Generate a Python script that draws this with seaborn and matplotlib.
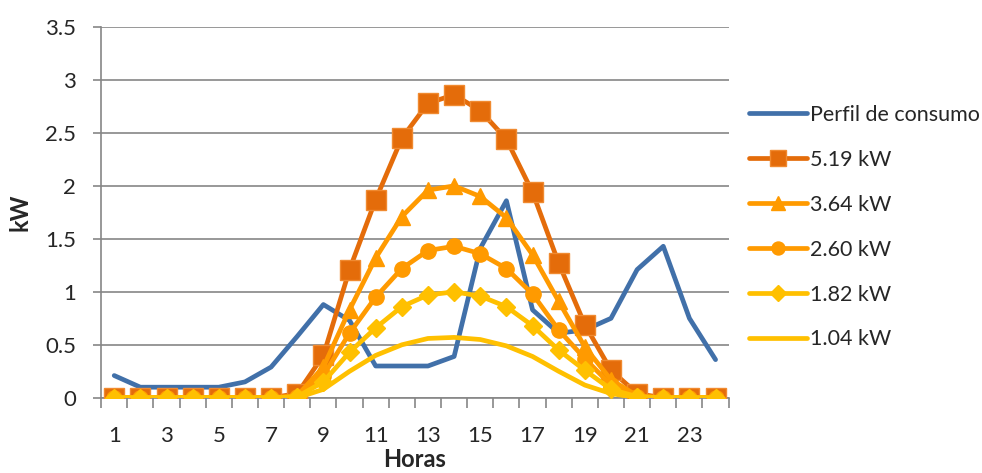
import matplotlib
matplotlib.use("Agg")
import matplotlib.pyplot as plt
import seaborn as sns
import pandas as pd

# ============================================================
# Data
# ============================================================
horas = [1, 2, 3, 4, 5, 6, 7, 8, 9, 10, 11, 12,
         13, 14, 15, 16, 17, 18, 19, 20, 21, 22, 23, 24]

perfil = [0.21, 0.10, 0.10, 0.10, 0.10, 0.15, 0.29, 0.58, 0.88, 0.73, 0.30, 0.30,
          0.30, 0.39, 1.41, 1.86, 0.83, 0.61, 0.64, 0.75, 1.21, 1.43, 0.75, 0.36]
pv_519 = [0, 0, 0, 0, 0, 0, 0, 0.04, 0.40, 1.21, 1.87, 2.45,
          2.78, 2.86, 2.71, 2.44, 1.94, 1.27, 0.69, 0.26, 0.04, 0, 0, 0]
pv_364 = [0, 0, 0, 0, 0, 0, 0, 0.02, 0.29, 0.83, 1.32, 1.71,
          1.96, 2.00, 1.90, 1.70, 1.35, 0.91, 0.48, 0.17, 0.02, 0, 0, 0]
pv_260 = [0, 0, 0, 0, 0, 0, 0, 0.01, 0.21, 0.61, 0.95, 1.22,
          1.39, 1.43, 1.36, 1.22, 0.98, 0.64, 0.37, 0.12, 0.01, 0, 0, 0]
pv_182 = [0, 0, 0, 0, 0, 0, 0, 0.01, 0.15, 0.43, 0.66, 0.86,
          0.97, 1.00, 0.96, 0.86, 0.68, 0.45, 0.26, 0.08, 0.01, 0, 0, 0]
pv_104 = [0, 0, 0, 0, 0, 0, 0, 0, 0.08, 0.25, 0.40, 0.50,
          0.56, 0.57, 0.55, 0.49, 0.39, 0.25, 0.12, 0.04, 0, 0, 0, 0]

series_names = ["Perfil de consumo", "5.19 kW", "3.64 kW",
                "2.60 kW", "1.82 kW", "1.04 kW"]
series_vals = [perfil, pv_519, pv_364, pv_260, pv_182, pv_104]

# ============================================================
# Styles
# ============================================================
GRAY = "#868686"
styles = {
    "Perfil de consumo": dict(color="#4170A9", marker=None),
    "5.19 kW": dict(color="#E46C0A", marker="s", ms=14, mec="#F08A30"),
    "3.64 kW": dict(color="#FF9A00", marker="^", ms=12, mec="#FF9A00"),
    "2.60 kW": dict(color="#FF9A00", marker="o", ms=11, mec="#FF9A00"),
    "1.82 kW": dict(color="#FFC000", marker="D", ms=9, mec="#FFC000"),
    "1.04 kW": dict(color="#FFC000", marker=None),
}

sns.set_style("white")
plt.rcParams["font.family"] = ["Lato", "DejaVu Sans"]

fig, ax = plt.subplots(figsize=(9.82, 4.73), dpi=100)
fig.subplots_adjust(left=0.103, right=0.742, top=0.943, bottom=0.159)

for name, vals in zip(series_names, series_vals):
    df = pd.DataFrame({"Horas": horas, "kW": vals})
    st = styles[name]
    kw = dict(color=st["color"], linewidth=3.4, label=name, ax=ax,
              zorder=3)
    if st["marker"] is not None:
        kw.update(marker=st["marker"], markersize=st["ms"],
                  markeredgecolor=st["mec"], markeredgewidth=1)
    sns.lineplot(data=df, x="Horas", y="kW", **kw)

# Axes
ax.set_xlim(0.5, 24.5)
ax.set_ylim(0, 3.5)
ax.set_yticks([0, 0.5, 1, 1.5, 2, 2.5, 3, 3.5])
ax.set_yticklabels(["0", "0.5", "1", "1.5", "2", "2.5", "3", "3.5"])
ax.set_xticks(horas[::2])
ax.set_xticklabels([str(h) for h in horas[::2]])
ax.set_xticks([h - 0.5 for h in horas] + [24.5], minor=True)

ax.tick_params(axis="x", which="major", length=0, pad=20, labelsize=16)
ax.tick_params(axis="x", which="minor", length=7, width=1.2, color=GRAY,
               direction="out", bottom=True)
ax.tick_params(axis="y", which="major", length=6, width=1.2, color=GRAY,
               direction="out", left=True, pad=12, labelsize=16)

ax.grid(axis="y", color=GRAY, linewidth=1.2)
ax.grid(axis="x", visible=False)
ax.set_axisbelow(True)
for side in ["top", "right"]:
    ax.spines[side].set_visible(False)
for side in ["left", "bottom"]:
    ax.spines[side].set_color(GRAY)
    ax.spines[side].set_linewidth(1.2)
ax.spines["bottom"].set_zorder(2)

ax.set_xlabel("Horas", fontsize=17, fontweight="bold", labelpad=2)
ax.set_ylabel("kW", fontsize=17, fontweight="bold", labelpad=10)

ax.legend(loc="upper left", bbox_to_anchor=(0.754, 0.797),
          bbox_transform=fig.transFigure, frameon=False,
          fontsize=15.5, handlelength=2.7, handletextpad=0.15,
          labelspacing=1.16, borderaxespad=0, markerscale=0.85)

fig.savefig("out.png", dpi=100)
